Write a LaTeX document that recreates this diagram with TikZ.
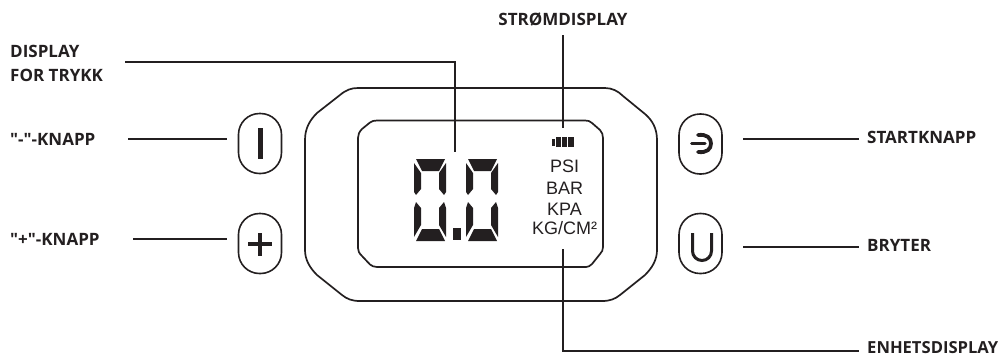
\documentclass[tikz,border=0pt]{standalone}
\usepackage{fontspec}
\newfontfamily\lblfont{Open Sans}
\newfontfamily\unitfont{Liberation Sans}
\definecolor{ink}{HTML}{231F20}
\tikzset{
  lbl/.style={font=\lblfont\fontsize{17}{24}\selectfont\bfseries, text=ink, inner sep=0pt, align=left},
  lblsmall/.style={lbl, font=\lblfont\fontsize{16.6}{24}\selectfont\bfseries},
  unit/.style={font=\unitfont\fontsize{18}{20}\selectfont, text=ink, inner sep=0pt, anchor=base},
  btn/.style={draw=ink, line width=1.6pt, rounded corners=21pt, minimum width=43pt, minimum height=60pt, inner sep=0pt, fill=none},
  conn/.style={draw=ink, line width=1.5pt},
  frame/.style={draw=ink, line width=1.7pt, line join=round},
  glyph/.style={draw=ink, line width=4pt},
  seg/.style={fill=ink, draw=none}
}
\newcommand{\lcddigit}[1]{%
  \begin{scope}[shift={(#1,159)}]
    \fill[seg] (2,0)--(31,0)--(25,12)--(8,12)--cycle;
    \fill[seg] (2,82)--(31,82)--(25,70)--(8,70)--cycle;
    \fill[seg] (0,4)--(7,14)--(7,30)--(2,36)--(0,33)--cycle;
    \fill[seg] (32,4)--(25,14)--(25,30)--(30,36)--(32,33)--cycle;
    \fill[seg] (0,49)--(2,43)--(7,49)--(7,66)--(0,78)--cycle;
    \fill[seg] (32,49)--(30,43)--(25,49)--(25,66)--(32,78)--cycle;
  \end{scope}}
\begin{document}
\begin{tikzpicture}[x=1pt,y=-1pt]
\useasboundingbox (0,0) rectangle (1004,357);
% outer frame
\draw[frame] (358,88) -- (605,88)
  .. controls (612,88) and (618,91) .. (623,96)
  -- (645,114)
  .. controls (652,120) and (657,128) .. (657,140)
  -- (657,250)
  .. controls (657,260) and (652,268) .. (645,275)
  -- (620,295)
  .. controls (615,299) and (610,301) .. (602,301)
  -- (360,301)
  .. controls (352,301) and (347,299) .. (342,295)
  -- (317,275)
  .. controls (310,268) and (305,260) .. (305,250)
  -- (305,140)
  .. controls (305,128) and (310,120) .. (317,113)
  -- (340,95)
  .. controls (346,90) and (351,88) .. (358,88) -- cycle;
% inner frame
\draw[frame] (377,120.5) -- (585,120.5)
  .. controls (588,120.5) and (590,121) .. (592,123)
  -- (600,130)
  .. controls (602,132) and (603,135) .. (603,138)
  -- (603,247)
  .. controls (603,250) and (602,252) .. (600,254)
  -- (592,264)
  .. controls (590,266) and (588,267) .. (586,267)
  -- (377,267)
  .. controls (374,267) and (372,266) .. (370,264.5)
  -- (362,256)
  .. controls (359,253) and (358,251) .. (358,248)
  -- (358,138)
  .. controls (358,135) and (359,132) .. (362,129)
  -- (370,122.5)
  .. controls (372,121) and (374,120.5) .. (377,120.5) -- cycle;
% digits
\lcddigit{414}
\lcddigit{466}
\fill[seg] (453,228) rectangle (461,240);
% battery
\fill[seg] (552,139) rectangle (555,146);
\fill[seg] (556,137) rectangle (561,147);
\fill[seg] (562,137) rectangle (567,147);
\fill[seg] (568,137) rectangle (574,147);
% unit texts
\node[unit] (psi) at (564.5,172.5) {PSI};
\node[unit] (bar) at (564.5,194) {BAR};
\node[unit] (kpa) at (564.5,215) {KPA};
\node[unit] (kg) at (564.5,234.5) {KG/CM²};
% buttons
\node[btn] (minus) at (260,143.5) {};
\node[btn] (plus) at (260,243.5) {};
\node[btn] (start) at (700.5,144) {};
\node[btn] (bryter) at (700.5,243.5) {};
% glyphs
\fill[ink] (258,128) rectangle (263,159);
\draw[glyph] (248,244) -- (272,244);
\draw[glyph] (260,233) -- (260,256);
\draw[glyph,line width=3pt] (692.5,233) -- (692.5,251) arc[start angle=180,end angle=0,radius=9.5] -- (711.5,233);
\draw[glyph,line width=3pt,line cap=round] (691.5,143.5) -- (705,143.5);
\draw[glyph,line width=3.8pt,line cap=round] (698,135) .. controls (707,134) and (711,138) .. (711,143.5) .. controls (711,149) and (707,153) .. (698,152);
% labels
\node[lbl,anchor=base west] (ltrykk) at (10,81) {DISPLAY\\FOR TRYKK};
\node[lbl,anchor=base] (lstrom) at (563,25) {STRØMDISPLAY};
\node[lbl,anchor=base west] (lminus) at (10,145) {"-"-KNAPP};
\node[lbl,anchor=base west] (lplus) at (10,245) {"+"-KNAPP};
\node[lbl,anchor=base west] (lstart) at (867,143) {STARTKNAPP};
\node[lbl,anchor=base west] (lbryter) at (867,251) {BRYTER};
\node[lblsmall,anchor=base west] (lenhet) at (867,353) {ENHETSDISPLAY};
% connector ends
\coordinate (a1) at (125,62);
\coordinate (a2) at (455,152);
\coordinate (b2) at (563,128);
\coordinate (c1) at (563,249);
\coordinate (d1) at (128,139);
\coordinate (d2) at (227,139);
\coordinate (e1) at (133,239);
\coordinate (e2) at (227,239);
\coordinate (f1) at (743,139);
\coordinate (f2) at (859,139);
\coordinate (g1) at (743,247);
\coordinate (g2) at (859,247);
\coordinate (h2) at (859,351);
\coordinate (s1) at (563,35);
% connectors
\draw[conn] (a1) -| (a2);
\draw[conn] (s1) -- (b2);
\draw[conn] (c1) |- (h2);
\draw[conn] (d1) -- (d2);
\draw[conn] (e1) -- (e2);
\draw[conn] (f1) -- (f2);
\draw[conn] (g1) -- (g2);
\end{tikzpicture}
\end{document}
